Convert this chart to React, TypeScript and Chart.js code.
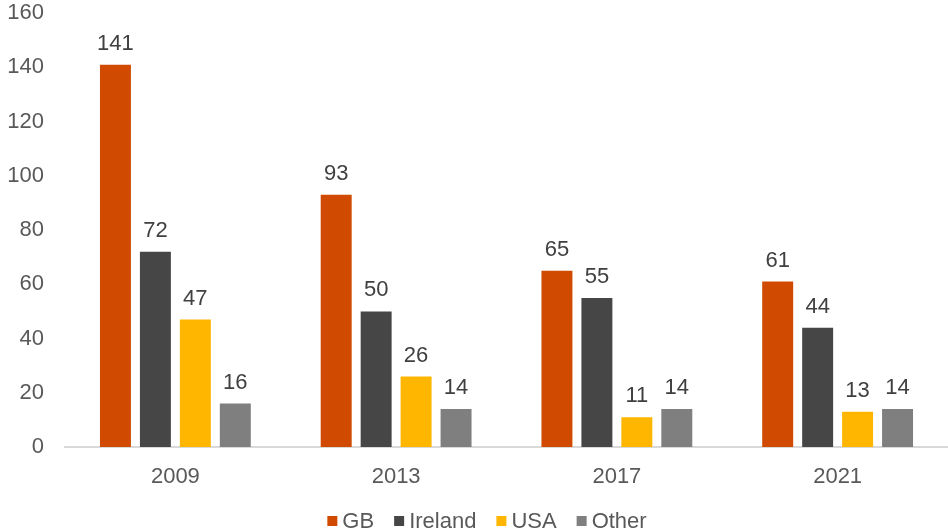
import React, { useEffect, useRef } from "react";
import { Chart, registerables } from "chart.js";

Chart.register(...registerables);

const categories = ["2009", "2013", "2017", "2021"];
const gbValues = [141, 93, 65, 61];
const irelandValues = [72, 50, 55, 44];
const usaValues = [47, 26, 11, 13];
const otherValues = [16, 14, 14, 14];
const seriesNames = ["GB", "Ireland", "USA", "Other"];
const seriesColors = ["#D04A02", "#464646", "#FFB600", "#7F7F7F"];

const FONT = "'Liberation Sans', Arial, sans-serif";
const FS = 22;

const dataLabelPlugin = {
  id: "dataLabels",
  afterDatasetsDraw(chart: any) {
    const ctx = chart.ctx;
    ctx.save();
    ctx.font = `${FS}px ${FONT}`;
    ctx.fillStyle = "#404040";
    ctx.textAlign = "center";
    ctx.textBaseline = "alphabetic";
    chart.data.datasets.forEach((ds: any, i: number) => {
      const meta = chart.getDatasetMeta(i);
      meta.data.forEach((bar: any, j: number) => {
        ctx.fillText(String(ds.data[j]), bar.x, bar.y - 15);
      });
    });
    ctx.restore();
  },
};

const legendPlugin = {
  id: "customLegend",
  afterDraw(chart: any) {
    const ctx = chart.ctx;
    ctx.save();
    ctx.font = `${FS}px ${FONT}`;
    ctx.textBaseline = "middle";
    ctx.textAlign = "left";
    const box = 10;
    const gapBoxText = 5;
    const gapItems = 20;
    const items = chart.data.datasets.map((ds: any) => ({
      label: ds.label,
      color: ds.backgroundColor,
      w: ctx.measureText(ds.label).width,
    }));
    const total =
      items.reduce((s: number, it: any) => s + box + gapBoxText + it.w, 0) +
      gapItems * (items.length - 1);
    let x = 487 - total / 2;
    const cy = chart.height - 10;
    items.forEach((it: any) => {
      ctx.fillStyle = it.color;
      ctx.fillRect(x, cy - box / 2, box, box);
      x += box + gapBoxText;
      ctx.fillStyle = "#595959";
      ctx.fillText(it.label, x, cy + 1);
      x += it.w + gapItems;
    });
    ctx.restore();
  },
};

export default function App() {
  const ref = useRef<HTMLCanvasElement>(null);
  useEffect(() => {
    const values = [gbValues, irelandValues, usaValues, otherValues];
    const chart = new Chart(ref.current!, {
      type: "bar",
      data: {
        labels: categories,
        datasets: seriesNames.map((name, i) => ({
          label: name,
          data: values[i],
          backgroundColor: seriesColors[i],
          categoryPercentage: 0.724,
          barPercentage: 0.775,
        })),
      },
      options: {
        animation: false,
        responsive: false,
        maintainAspectRatio: false,
        layout: { padding: { top: 0, right: 0, left: 0, bottom: 30 } },
        plugins: {
          legend: { display: false },
          tooltip: { enabled: false },
        },
        scales: {
          x: {
            grid: { display: false },
            border: { display: true, color: "#D9D9D9", width: 2 },
            ticks: { color: "#595959", font: { size: FS, family: FONT }, padding: 9 },
            afterFit(scale: any) {
              scale.height = 54;
            },
          },
          y: {
            min: 0,
            max: 160,
            grid: { display: false, drawTicks: true, tickLength: 21 },
            border: { display: false },
            ticks: { stepSize: 20, color: "#595959", font: { size: FS, family: FONT }, padding: 0 },
            afterFit(scale: any) {
              scale.width = 65;
            },
          },
        },
      },
      plugins: [dataLabelPlugin, legendPlugin],
    });
    return () => chart.destroy();
  }, []);
  return (
    <div style={{ position: "fixed", left: 0, top: 0, width: 948, height: 531, background: "#fff" }}>
      <canvas ref={ref} width={948} height={531} />
    </div>
  );
}
